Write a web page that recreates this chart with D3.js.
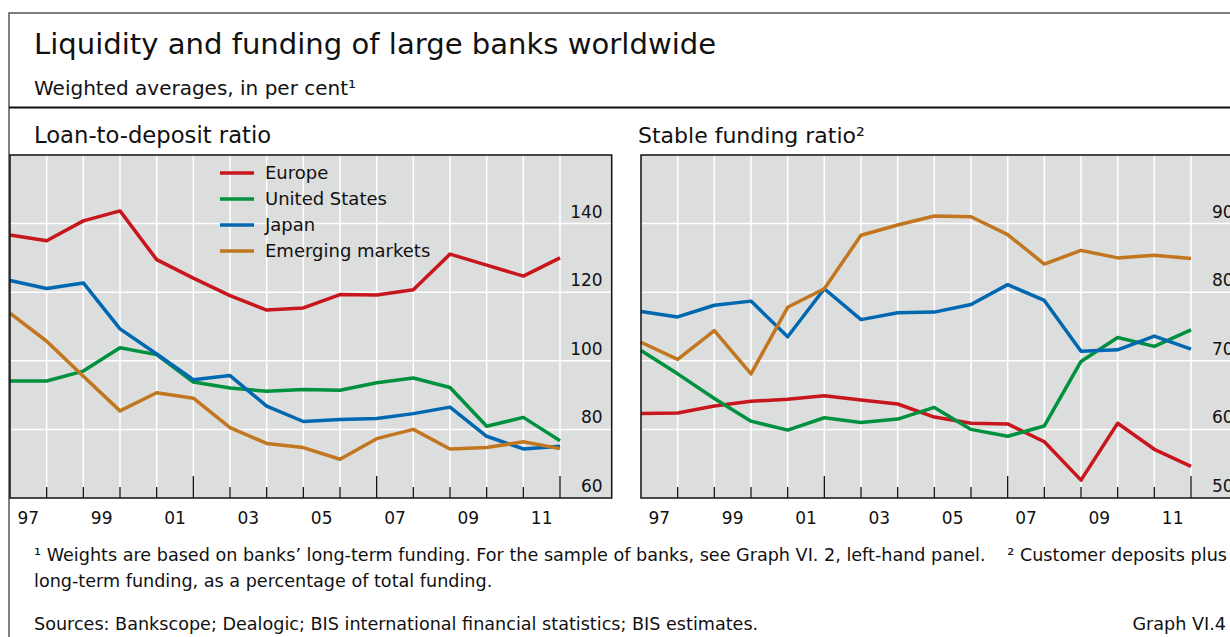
<!DOCTYPE html>
<html>
<head>
<meta charset="utf-8">
<script src="https://cdn.jsdelivr.net/npm/d3@7"></script>
<style>
  body { margin: 0; background: #fff; }
  svg { display: block; font-family: "DejaVu Sans", sans-serif; }
</style>
</head>
<body>
<div id="chart"></div>
<script>
// Data (year-end observations, plotted at year boundaries)
var years = [1997, 1998, 1999, 2000, 2001, 2002, 2003, 2004, 2005, 2006, 2007, 2008, 2009, 2010, 2011, 2012];
var yearLabels = ["97", "99", "01", "03", "05", "07", "09", "11"];
var seriesNames = ["Europe", "United States", "Japan", "Emerging markets"];
var seriesColors = ["#c8161d", "#00913f", "#0067b1", "#c2761f"];

// Loan-to-deposit ratio
var ldEurope = [136.7, 135, 140.8, 143.7, 129.5, 124.1, 119, 114.8, 115.4, 119.3, 119.2, 120.7, 131.1, 127.9, 124.7, 130];
var ldUS     = [94.1, 94.1, 97, 103.8, 101.8, 93.8, 92.1, 91.1, 91.6, 91.4, 93.6, 95, 92.2, 80.9, 83.5, 76.7];
var ldJapan  = [123.4, 121.1, 122.7, 109.3, 102, 94.5, 95.7, 86.8, 82.3, 82.9, 83.2, 84.6, 86.5, 78, 74.3, 75.1];
var ldEM     = [113.9, 105.7, 95.5, 85.4, 90.7, 89.1, 80.5, 75.9, 74.7, 71.3, 77.3, 80, 74.3, 74.7, 76.4, 74.4];
var ldTicks  = [60, 80, 100, 120, 140];

// Stable funding ratio
var sfEurope = [62.3, 62.4, 63.4, 64.1, 64.4, 64.9, 64.3, 63.7, 61.8, 60.9, 60.8, 58.2, 52.6, 60.9, 57.1, 54.6];
var sfUS     = [71.5, 68.1, 64.5, 61.2, 59.9, 61.7, 61, 61.5, 63.2, 60, 59, 60.5, 69.9, 73.4, 72.1, 74.5];
var sfJapan  = [77.2, 76.4, 78.1, 78.7, 73.5, 80.5, 76, 77, 77.1, 78.2, 81.1, 78.8, 71.4, 71.6, 73.6, 71.7];
var sfEM     = [72.7, 70.2, 74.4, 68.1, 77.8, 80.5, 88.3, 89.8, 91.1, 91, 88.4, 84.1, 86.1, 85, 85.4, 84.9];
var sfTicks  = [50, 60, 70, 80, 90];

var W = 1230, H = 637;
var svg = d3.select("#chart").append("svg")
    .attr("width", W)
    .attr("height", H);

// outer frame and header
svg.append("rect")
    .attr("x", 9).attr("y", 13)
    .attr("width", 1260).attr("height", 700)
    .attr("fill", "none")
    .attr("stroke", "#555")
    .attr("stroke-width", 1.5);

svg.append("line")
    .attr("x1", 9).attr("x2", W)
    .attr("y1", 107.5).attr("y2", 107.5)
    .attr("stroke", "#111")
    .attr("stroke-width", 2);

svg.append("text")
    .attr("x", 34).attr("y", 54)
    .attr("font-size", 29.1)
    .attr("fill", "#111")
    .text("Liquidity and funding of large banks worldwide");

svg.append("text")
    .attr("x", 34).attr("y", 95)
    .attr("font-size", 20)
    .attr("fill", "#111")
    .text("Weighted averages, in per cent¹");

// one panel
function drawPanel(opts) {
  var x = d3.scaleLinear()
      .domain([1997, 2013.41])
      .range([opts.left, opts.left + 601.7]);
  var y = d3.scaleLinear()
      .domain(opts.domain)
      .range([498, 155]);

  var g = svg.append("g");

  g.append("text")
      .attr("x", opts.titleX).attr("y", 143)
      .attr("font-size", opts.titleSize)
      .attr("fill", "#111")
      .text(opts.title);

  g.append("rect")
      .attr("x", x.range()[0]).attr("y", 155)
      .attr("width", x.range()[1] - x.range()[0])
      .attr("height", 498 - 155)
      .attr("fill", "#dcdddd");

  // white grid
  g.selectAll(".vgrid")
    .data(years.slice(1))
    .enter().append("line")
      .attr("x1", function(d) { return x(d); })
      .attr("x2", function(d) { return x(d); })
      .attr("y1", 155).attr("y2", 498)
      .attr("stroke", "#fff")
      .attr("stroke-width", 1.5);

  g.selectAll(".hgrid")
    .data(opts.ticks.slice(1))
    .enter().append("line")
      .attr("x1", x.range()[0]).attr("x2", x.range()[1])
      .attr("y1", function(d) { return y(d); })
      .attr("y2", function(d) { return y(d); })
      .attr("stroke", "#fff")
      .attr("stroke-width", 1.5);

  // y labels inside the plot, right side
  g.selectAll(".ylab")
    .data(opts.ticks)
    .enter().append("text")
      .attr("x", x.range()[1] - 9)
      .attr("y", function(d) { return y(d) - 6; })
      .attr("text-anchor", "end")
      .attr("font-size", 17)
      .attr("fill", "#111")
      .text(function(d) { return d; });

  // lines
  var line = d3.line()
      .x(function(d, i) { return x(years[i]); })
      .y(function(d) { return y(d); });

  opts.series.forEach(function(s, i) {
    g.append("path")
        .datum(s)
        .attr("d", line)
        .attr("fill", "none")
        .attr("stroke", seriesColors[i])
        .attr("stroke-width", 3.5)
        .attr("stroke-linejoin", "round");
  });

  // frame
  g.append("rect")
      .attr("x", x.range()[0]).attr("y", 155)
      .attr("width", x.range()[1] - x.range()[0])
      .attr("height", 498 - 155)
      .attr("fill", "none")
      .attr("stroke", "#111")
      .attr("stroke-width", 1.5);

  // x axis ticks, long ones every five years
  g.selectAll(".xtick")
    .data(years.slice(1))
    .enter().append("line")
      .attr("x1", function(d) { return x(d); })
      .attr("x2", function(d) { return x(d); })
      .attr("y1", 498)
      .attr("y2", function(d) { return (d - 1997) % 5 === 0 ? 476 : 487; })
      .attr("stroke", "#111")
      .attr("stroke-width", 1.3);

  // year labels centred in their year band
  g.selectAll(".xlab")
    .data(yearLabels)
    .enter().append("text")
      .attr("x", function(d) { var yr = +d > 50 ? 1900 + +d : 2000 + +d; return x(yr + 0.5); })
      .attr("y", 524)
      .attr("text-anchor", "middle")
      .attr("font-size", 17)
      .attr("fill", "#111")
      .text(function(d) { return d; });

  return { x: x, y: y };
}

drawPanel({
  left: 10, title: "Loan-to-deposit ratio", titleX: 34, titleSize: 22.7,
  domain: [60, 160], ticks: ldTicks,
  series: [ldEurope, ldUS, ldJapan, ldEM]
});

drawPanel({
  left: 641, title: "Stable funding ratio²", titleX: 638, titleSize: 22,
  domain: [50, 100], ticks: sfTicks,
  series: [sfEurope, sfUS, sfJapan, sfEM]
});

// legend in the left panel
var legend = svg.append("g")
    .attr("transform", "translate(220,173)");

seriesNames.forEach(function(name, i) {
  legend.append("line")
      .attr("x1", 0).attr("x2", 34)
      .attr("y1", i * 26).attr("y2", i * 26)
      .attr("stroke", seriesColors[i])
      .attr("stroke-width", 3.5);
  legend.append("text")
      .attr("x", 45).attr("y", i * 26 + 6)
      .attr("font-size", 18)
      .attr("fill", "#111")
      .text(name);
});

// footnotes
var fnSize = 17.6;
svg.append("text")
    .attr("x", 34).attr("y", 561)
    .attr("font-size", fnSize)
    .attr("fill", "#111")
    .text("¹ Weights are based on banks’ long-term funding. For the sample of banks, see Graph VI. 2, left-hand panel.");

svg.append("text")
    .attr("x", 1227).attr("y", 561)
    .attr("text-anchor", "end")
    .attr("font-size", fnSize)
    .attr("fill", "#111")
    .text("² Customer deposits plus");

svg.append("text")
    .attr("x", 34).attr("y", 587)
    .attr("font-size", fnSize)
    .attr("fill", "#111")
    .text("long-term funding, as a percentage of total funding.");

svg.append("text")
    .attr("x", 34).attr("y", 630)
    .attr("font-size", fnSize)
    .attr("fill", "#111")
    .text("Sources: Bankscope; Dealogic; BIS international financial statistics; BIS estimates.");

svg.append("text")
    .attr("x", 1226).attr("y", 630)
    .attr("text-anchor", "end")
    .attr("font-size", fnSize)
    .attr("fill", "#111")
    .text("Graph VI.4");
</script>
</body>
</html>
